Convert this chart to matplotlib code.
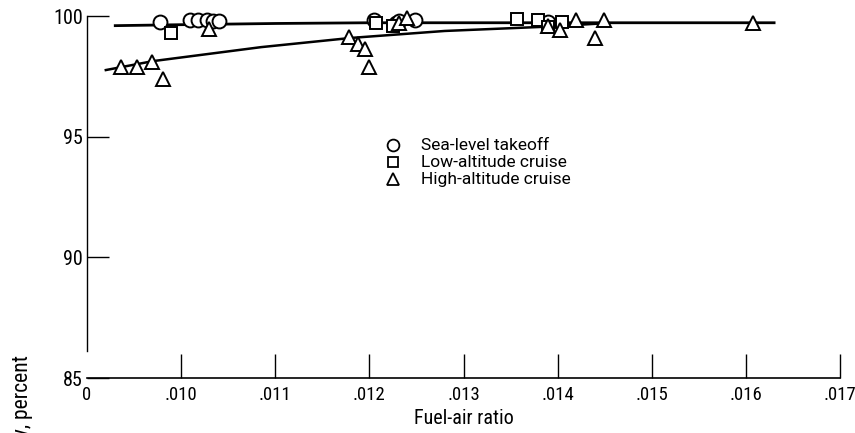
import numpy as np
import matplotlib.pyplot as plt
from matplotlib import font_manager

# pick a narrow face for the axis numbers if one is around
fonts = font_manager.fontManager.ttflist
names = {f.name for f in fonts}
narrow = dict(family='DejaVu Sans')
for cand in ['Liberation Sans Narrow', 'DejaVu Sans Condensed', 'Roboto Condensed',
             'Open Sans Condensed']:
    if cand in names:
        narrow = dict(family=cand)
        break
else:
    if any(f.name == 'DejaVu Sans' and f.stretch == 'condensed' for f in fonts):
        narrow = dict(family='DejaVu Sans', stretch='condensed')
plain = dict(family=['Roboto', 'DejaVu Sans'])

plt.rcParams['font.family'] = [narrow['family'], 'DejaVu Sans']
plt.rcParams['font.stretch'] = narrow.get('stretch', 'normal')

# combustion efficiency vs fuel-air ratio, three operating conditions
sea_level_fa = [0.00978, 0.01009, 0.01018, 0.01027, 0.01034, 0.0104,
                0.01205, 0.01228, 0.01232, 0.01248, 0.0139]
sea_level_eff = [99.75, 99.85, 99.85, 99.85, 99.8, 99.8,
                 99.85, 99.7, 99.8, 99.85, 99.75]

low_alt_fa = [0.00989, 0.01207, 0.01225, 0.01357, 0.01379, 0.0139, 0.01405]
low_alt_eff = [99.3, 99.7, 99.6, 99.88, 99.83, 99.55, 99.75]

high_alt_fa = [0.00936, 0.00953, 0.00969, 0.00981, 0.0103, 0.01178, 0.01188,
               0.01195, 0.0120, 0.01232, 0.0124, 0.0139, 0.01402, 0.01419,
               0.0144, 0.01449, 0.01608]
high_alt_eff = [97.9, 97.9, 98.1, 97.4, 99.45, 99.15, 98.85,
                98.65, 97.9, 99.7, 99.9, 99.6, 99.4, 99.85,
                99.1, 99.85, 99.7]

# faired curves
upper_fa = [0.0093, 0.0100, 0.0110, 0.0120, 0.0130, 0.0140, 0.0150, 0.0163]
upper_eff = [99.6, 99.64, 99.69, 99.72, 99.72, 99.72, 99.72, 99.72]
lower_fa = [0.0092, 0.0097, 0.01085, 0.0118, 0.0128, 0.0139, 0.0145]
lower_eff = [97.76, 98.13, 98.71, 99.09, 99.38, 99.56, 99.7]

x_ticks = [0.009, 0.010, 0.011, 0.012, 0.013, 0.014, 0.015, 0.016, 0.017]
x_labels = ['0', '.010', '.011', '.012', '.013', '.014', '.015', '.016', '.017']
y_ticks = [85, 90, 95, 100]

fig = plt.figure(figsize=(8.55, 4.33), dpi=100)
ax = fig.add_axes([87 / 855, 55 / 433, 753 / 855, 362 / 433])

ax.plot(upper_fa, upper_eff, color='black', lw=2.0, zorder=2, clip_on=False)
ax.plot(lower_fa, lower_eff, color='black', lw=1.8, zorder=2, clip_on=False)

mk = dict(ls='none', mfc='white', mec='black', mew=1.4, clip_on=False, zorder=3)
series = [
    (sea_level_fa, sea_level_eff, 'o', 10, 'Sea-level takeoff'),
    (low_alt_fa, low_alt_eff, 's', 9, 'Low-altitude cruise'),
    (high_alt_fa, high_alt_eff, '^', 10, 'High-altitude cruise'),
]
for fa, eff, m, ms, label in series:
    ax.plot(fa, eff, marker=m, ms=ms, **mk)

# key, stacked in the middle of the plot
for i, (fa, eff, m, ms, label) in enumerate(series):
    yk = 0.643 - i * 0.047
    ax.plot([0.406], [yk], marker=m, ms=ms * 0.85, transform=ax.transAxes,
            ls='none', mfc='white', mec='black', mew=1.3, clip_on=False)
    ax.text(0.444, yk, label, transform=ax.transAxes, va='center', ha='left',
            fontsize=12.5, **plain)

ax.set_xlim(0.009, 0.017)
ax.set_ylim(85, 100)
ax.set_xticks(x_ticks)
ax.set_xticklabels(x_labels)
ax.set_yticks(y_ticks)
ax.xaxis.get_major_ticks()[0].tick1line.set_visible(False)

ax.tick_params(axis='x', direction='in', length=17, width=1.0, pad=6, labelsize=13.5)
ax.tick_params(axis='y', direction='in', length=16, width=1.0, pad=3, labelsize=14.5)

for side in ('top', 'right'):
    ax.spines[side].set_visible(False)
ax.spines['left'].set_bounds(86.1, 100)
ax.spines['left'].set_linewidth(1.0)
ax.spines['bottom'].set_linewidth(1.2)

ax.set_xlabel('Fuel-air ratio', fontsize=14.5, labelpad=3)
fig.text(22 / 855, 78 / 433, 'Combustion efficiency, percent', rotation=90,
         ha='center', va='top', fontsize=15.5)

fig.savefig('out.png', dpi=100)
